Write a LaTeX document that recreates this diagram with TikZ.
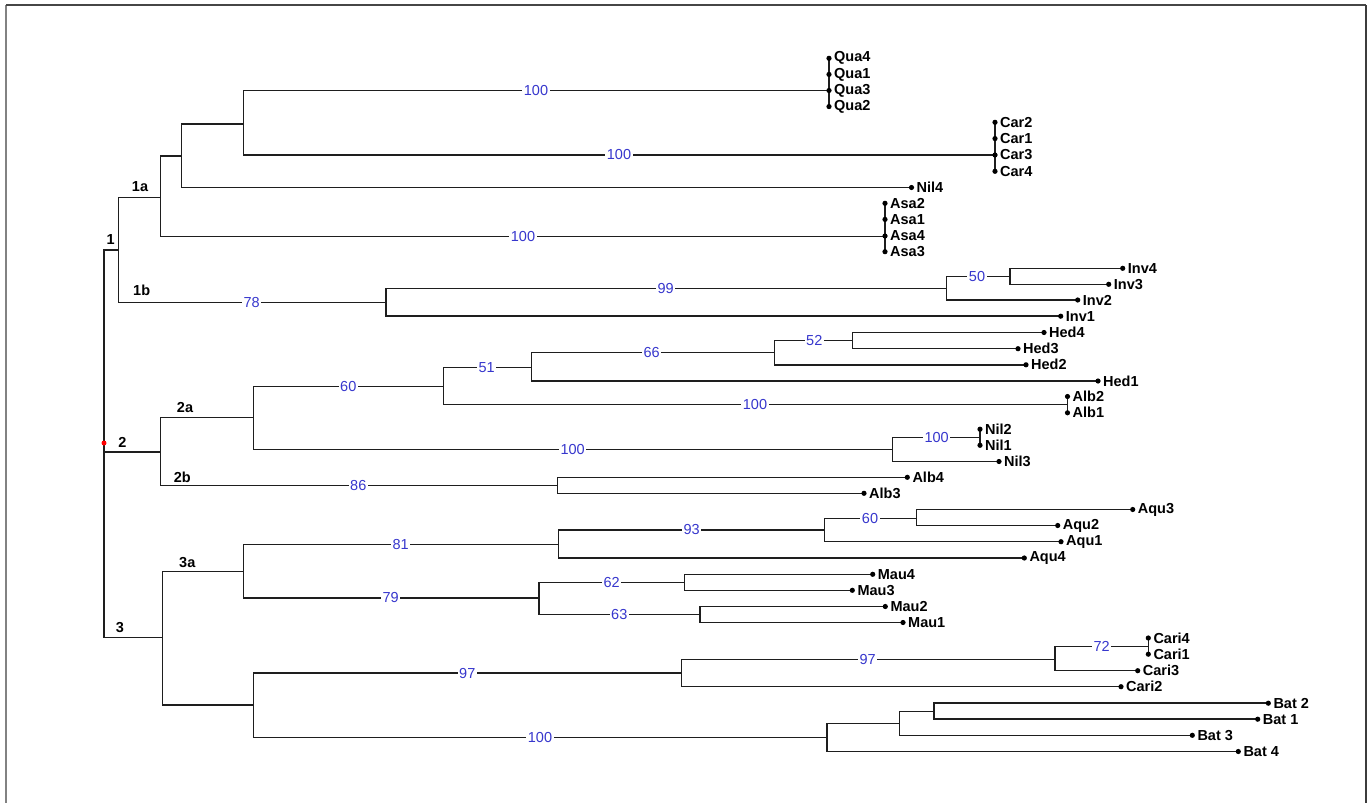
\documentclass[tikz,border=0pt]{standalone}
\usepackage{fontspec}
\setmainfont{Liberation Sans}
\definecolor{bsblue}{RGB}{55,55,205}
\definecolor{linegray}{RGB}{30,30,30}
\tikzset{
 br/.style={draw=linegray, line width=1.5pt},
 bs/.style={fill=white, text=bsblue, inner xsep=1.5pt, inner ysep=0pt, font=\fontsize{14.5}{16}\selectfont},
 cl/.style={font=\bfseries\fontsize{14.5}{16}\selectfont, inner sep=0pt},
 lf/.style={anchor=west, inner sep=0pt, font=\bfseries\fontsize{14.5}{16}\selectfont, xshift=5pt},
 leafdot/.style={circle, fill=black, inner sep=0pt, minimum size=5.2pt},
 frame/.style={line width=1.6pt}
}
\begin{document}
\begin{tikzpicture}[x=1pt,y=-1pt]
\useasboundingbox (0,0) rectangle (1370,803);
\fill[white] (0,0) rectangle (1370,803);
% frame
\coordinate (fTL) at (6,5); \coordinate (fTR) at (1366,5);
\coordinate (fBL) at (6,803); \coordinate (fBR) at (1366,803);
\draw[frame, draw={rgb,255:red,130;green,130;blue,130}] (fTL) -- (fBL);
\draw[frame, draw={rgb,255:red,70;green,70;blue,70}] (fTL) -- (fTR);
\draw[line width=1.2pt, draw={rgb,255:red,60;green,60;blue,60}] (fTR) -- (fBR);

% ---------- leaves ----------
\foreach \n/\x/\y in {Qua4/829/58.3, Qua1/829/74.4, Qua3/829/90.5, Qua2/829/106.6,
  Car2/995/122.3, Car1/995/138.6, Car3/995/155, Car4/995/171.3,
  Nil4/911.5/187.5,
  Asa2/885/203.3, Asa1/885/219.4, Asa4/885/236, Asa3/885/251.7,
  Inv4/1122.7/268.3, Inv3/1108.7/284.3, Inv2/1077.7/300, Inv1/1060.7/316.2,
  Hed4/1044/332.5, Hed3/1018/348.7, Hed2/1026/364.8, Hed1/1098/381,
  Alb2/1067.5/396.5, Alb1/1067.5/412.8,
  Nil2/980/429.2, Nil1/980/445.3, Nil3/999/461.5,
  Alb4/907.3/477.3, Alb3/864/493.3,
  Aqu3/1132.7/509.5, Aqu2/1057.7/525.5, Aqu1/1061/541.7, Aqu4/1024.3/558,
  Mau4/872.7/574.3, Mau3/852.3/590.3, Mau2/885.3/606.5, Mau1/903/622.5,
  Cari4/1148.3/638, Cari1/1148.3/654.2, Cari3/1137.7/670.7, Cari2/1121/686.7,
  Bat2/1268.3/703.2, Bat1/1257.7/719.2, Bat3/1192.3/735.3, Bat4/1238.3/751.5}
  {\coordinate (\n) at (\x,\y);}

% junctions of tied leaves
\coordinate (jQ) at (829,90.5);
\coordinate (jC) at (995,155);
\coordinate (jAs) at (885,236.5);
\coordinate (jAl) at (1067.5,404.6);
\coordinate (jN) at (980,437.3);
\coordinate (jCa) at (1148.3,646.4);

% ---------- internal nodes ----------
\coordinate (root) at (104,443);
\coordinate (c1) at (118.3,250);
\coordinate (c1a) at (160.7,197.5);
\coordinate (cA) at (181.3,156);
\coordinate (cQC) at (243.3,124);
\coordinate (c1b) at (386,302.3);
\coordinate (cI99) at (946.7,288.3);
\coordinate (cI50) at (1010,276.5);
\coordinate (c2) at (160.7,452);
\coordinate (c2a) at (253.3,417.3);
\coordinate (c60) at (443.7,386.3);
\coordinate (cH51) at (531.3,367.7);
\coordinate (cH66) at (774.3,352.3);
\coordinate (cH52) at (852.7,340.7);
\coordinate (cN100) at (892.7,449.5);
\coordinate (c2b) at (557.3,485.7);
\coordinate (c3) at (162.3,637.7);
\coordinate (c3a) at (243.3,571.7);
\coordinate (cAq81) at (558.3,544.3);
\coordinate (cAq93) at (824.3,530);
\coordinate (cAq60) at (916.7,518.3);
\coordinate (cM79) at (539,598);
\coordinate (cM62) at (684.3,582.3);
\coordinate (cM63) at (700,614.3);
\coordinate (c3b) at (253.3,705);
\coordinate (cCa97) at (681.7,673);
\coordinate (cCa72) at (1055,659.3);
\coordinate (cB3) at (827,737.7);
\coordinate (cB2) at (899.3,723.3);
\coordinate (cB1) at (934,711.3);

% ---------- branches ----------
\foreach \p/\c in {root/c1, root/c2, root/c3,
  c1/c1a, c1/c1b, c1a/cA, c1a/jAs, cA/cQC, cA/Nil4, cQC/jQ, cQC/jC,
  c1b/cI99, c1b/Inv1, cI99/cI50, cI99/Inv2, cI50/Inv4, cI50/Inv3,
  c2/c2a, c2/c2b, c2a/c60, c2a/cN100, c60/cH51, c60/jAl,
  cH51/cH66, cH51/Hed1, cH66/cH52, cH66/Hed2, cH52/Hed4, cH52/Hed3,
  cN100/jN, cN100/Nil3, c2b/Alb4, c2b/Alb3,
  c3/c3a, c3/c3b, c3a/cAq81, c3a/cM79, cAq81/cAq93, cAq81/Aqu4,
  cAq93/cAq60, cAq93/Aqu1, cAq60/Aqu3, cAq60/Aqu2,
  cM79/cM62, cM79/cM63, cM62/Mau4, cM62/Mau3, cM63/Mau2, cM63/Mau1,
  c3b/cCa97, c3b/cB3, cCa97/cCa72, cCa97/Cari2, cCa72/jCa, cCa72/Cari3,
  cB3/cB2, cB3/Bat4, cB2/cB1, cB2/Bat3, cB1/Bat2, cB1/Bat1}
  {\draw[br] (\p) |- (\c);}
% tied-leaf verticals
\draw[br] (Qua4) -- (Qua2);
\draw[br] (Car2) -- (Car4);
\draw[br] (Asa2) -- (Asa3);
\draw[br] (Alb2) -- (Alb1);
\draw[br] (Nil2) -- (Nil1);
\draw[br] (Cari4) -- (Cari1);

% ---------- leaf dots and labels ----------
\foreach \n/\t in {Qua4/Qua4, Qua1/Qua1, Qua3/Qua3, Qua2/Qua2,
  Car2/Car2, Car1/Car1, Car3/Car3, Car4/Car4, Nil4/Nil4,
  Asa2/Asa2, Asa1/Asa1, Asa4/Asa4, Asa3/Asa3,
  Inv4/Inv4, Inv3/Inv3, Inv2/Inv2, Inv1/Inv1,
  Hed4/Hed4, Hed3/Hed3, Hed2/Hed2, Hed1/Hed1, Alb2/Alb2, Alb1/Alb1,
  Nil2/Nil2, Nil1/Nil1, Nil3/Nil3, Alb4/Alb4, Alb3/Alb3,
  Aqu3/Aqu3, Aqu2/Aqu2, Aqu1/Aqu1, Aqu4/Aqu4,
  Mau4/Mau4, Mau3/Mau3, Mau2/Mau2, Mau1/Mau1,
  Cari4/Cari4, Cari1/Cari1, Cari3/Cari3, Cari2/Cari2,
  Bat2/Bat 2, Bat1/Bat 1, Bat3/Bat 3, Bat4/Bat 4}
  {\node[leafdot] (\n d) at (\n) {}; \node[lf] (\n t) at (\n) {\t};}

% red root dot
\node[leafdot, fill=red, minimum size=5pt] (rootdot) at (root) {};

% ---------- cluster labels ----------
\node[cl] (l1) at (110.7,240) {1};
\node[cl] (l1a) at (140,187) {1a};
\node[cl] (l1b) at (141.7,290) {1b};
\node[cl] (l2) at (122.3,442.7) {2};
\node[cl] (l2a) at (185,407.3) {2a};
\node[cl] (l2b) at (182.3,477.7) {2b};
\node[cl] (l3) at (120,627.7) {3};
\node[cl] (l3a) at (187.3,562.3) {3a};

% ---------- bootstrap values ----------
\foreach \i/\x/\y/\v in {b1/536/90.5/100, b2/619/155/100, b3/523/236.5/100,
  b4/251.7/302.3/78, b5/665.7/288.3/99, b6/977/276.5/50,
  b7/348.3/386.3/60, b8/486.7/367.7/51, b9/651.7/352.3/66, b10/814.3/340.7/52,
  b11/755/404.6/100, b12/572.7/449.5/100, b13/936.7/437.3/100, b14/358.3/485.7/86,
  b15/400.7/544.3/81, b16/691.7/530/93, b17/870/518.3/60, b18/390.7/598/79,
  b19/611.7/582.3/62, b20/619.3/614.3/63, b21/467.3/673/97, b22/867.7/659.3/97,
  b23/1101.7/646.4/72, b24/540/737.7/100}
  {\node[bs] (\i) at (\x,\y) {\v};}
\end{tikzpicture}
\end{document}
